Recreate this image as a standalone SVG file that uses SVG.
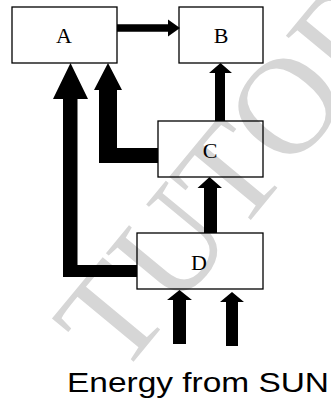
<svg xmlns="http://www.w3.org/2000/svg" width="331" height="401" viewBox="0 0 331 401">
<style>
.box{fill:none;stroke:#000;stroke-width:1.3}
.lbl{font-family:"Liberation Serif","Times New Roman",serif;font-size:22px;fill:#000;text-anchor:middle}
.arr{fill:#000;stroke:none}
.wm{font-family:"Liberation Serif","Times New Roman",serif;font-size:138px;fill:#d6d6d6}
</style>
<rect width="331" height="401" fill="#fff"/>
<g id="watermark"><text class="wm" x="0" y="0" transform="translate(120,378) rotate(-50.4)">TUTOR</text></g>
<g id="connectors">
<polygon class="arr" points="117,24.2 168,24.2 168,19.5 180,28 168,36.5 168,31.8 117,31.8"/>
<polygon class="arr" points="215,121 215,73 209,73 220.5,63 232,73 225,73 225,121"/>
<polygon class="arr" points="158,148 117,148 117,90 122,90 108,63 94,90 99,90 99,163 158,163"/>
<polygon class="arr" points="137,265 77.5,265 77.5,99 88,99 70.5,63 53,99 63,99 63,277 137,277"/>
<polygon class="arr" points="204,233 204,188 197.5,188 209.5,177 222,188 217,188 217,233"/>
<polygon class="arr" points="173,344 173,300 167,300 179.5,290 192,300 186,300 186,344"/>
<polygon class="arr" points="226,346 226,302 220,302 232,292 244,302 238,302 238,346"/>
</g>
<g id="node-A"><rect class="box" x="12" y="7" width="105" height="56"/><text class="lbl" x="64" y="43">A</text></g>
<g id="node-B"><rect class="box" x="179" y="7" width="84" height="56"/><text class="lbl" x="221" y="43">B</text></g>
<g id="node-C"><rect class="box" x="158" y="121" width="105" height="56"/><text class="lbl" x="210" y="158">C</text></g>
<g id="node-D"><rect class="box" x="137" y="233" width="126" height="56"/><text class="lbl" x="199" y="270">D</text></g>
<g id="caption"><text x="67" y="392" font-family="Liberation Sans, Arial, sans-serif" font-size="28" textLength="262" lengthAdjust="spacingAndGlyphs" fill="#000">Energy from SUN</text></g>
</svg>
